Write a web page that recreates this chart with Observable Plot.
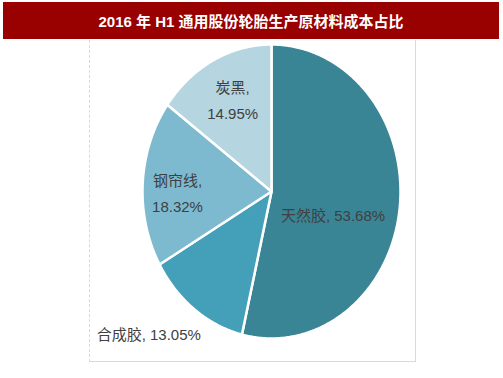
<!DOCTYPE html>
<html>
<head>
<meta charset="utf-8">
<script src="https://cdn.jsdelivr.net/npm/d3@7"></script>
<script src="https://cdn.jsdelivr.net/npm/@observablehq/plot@0.6"></script>
<style>
  html, body { margin: 0; padding: 0; background: #fff; width: 503px; height: 378px; overflow: hidden; }
  #title { position: absolute; left: 3px; top: 2px; width: 496px; height: 37px; background: #990000;
           color: #fff; font: bold 15px "Liberation Sans", "Noto Sans CJK SC", sans-serif;
           display: flex; align-items: center; justify-content: center; white-space: pre; }
  #frame { position: absolute; left: 89px; top: 40px; width: 325px; height: 321px;
           border-left: 1px dashed #d9d9d9; border-right: 1px solid #d9d9d9; border-bottom: 1px solid #d9d9d9; }
  #chart { position: absolute; left: 0; top: 40px; }
</style>
</head>
<body>
<div id="title">2016 年 H1 通用股份轮胎生产原材料成本占比</div>
<div id="frame"></div>
<div id="chart"></div>
<script>
const categories = ["天然胶", "合成胶", "钢帘线", "炭黑"];
const values = [53.68, 13.05, 18.32, 14.95];
const labels = ["天然胶, 53.68%", "合成胶, 13.05%", "钢帘线,\n18.32%", "炭黑,\n14.95%"];
const colors = ["#398596", "#43a0b8", "#7dbad0", "#b5d5e0"];
const labelRadius = [0.48, 1.15, 0.73, 0.7];
const labelShift = [[0, 13], [-34, 5], [0, 5], [2, -2]];

const total = d3.sum(values);
const slices = [];
const labelRows = [];
let acc = 0;
categories.forEach((name, i) => {
  const a0 = acc / total * 2 * Math.PI;
  acc += values[i];
  const a1 = acc / total * 2 * Math.PI;
  const n = Math.max(2, Math.ceil((a1 - a0) / (Math.PI / 360)));
  slices.push({name, x: 0, y: 0});
  for (let k = 0; k <= n; k++) {
    const a = a0 + (a1 - a0) * k / n;
    slices.push({name, x: Math.sin(a), y: -Math.cos(a)});
  }
  const am = (a0 + a1) / 2;
  labelRows.push({name, text: labels[i], x: labelRadius[i] * Math.sin(am), y: -labelRadius[i] * Math.cos(am), i});
});

const font = '"Liberation Sans", "Noto Sans CJK SC", sans-serif';
const plot = Plot.plot({
  width: 503,
  height: 338,
  margin: 0,
  x: {domain: [-1, 1], range: [142, 400], axis: null},
  y: {domain: [-1, 1], range: [4, 298], axis: null},
  color: {domain: categories, range: colors},
  style: {fontFamily: font, background: "transparent"},
  marks: [
    Plot.line(slices, {x: "x", y: "y", z: "name", fill: "name", stroke: "white", strokeWidth: 2.5,
      strokeLinejoin: "round", curve: "linear-closed"}),
    ...labelRows.map(d => Plot.text([d], {x: "x", y: "y", text: "text", fontSize: 15, fill: "#404040",
      lineHeight: 1.75, lineAnchor: "middle", textAnchor: "middle", dx: labelShift[d.i][0], dy: labelShift[d.i][1]}))
  ]
});
document.getElementById("chart").appendChild(plot);
</script>
</body>
</html>
